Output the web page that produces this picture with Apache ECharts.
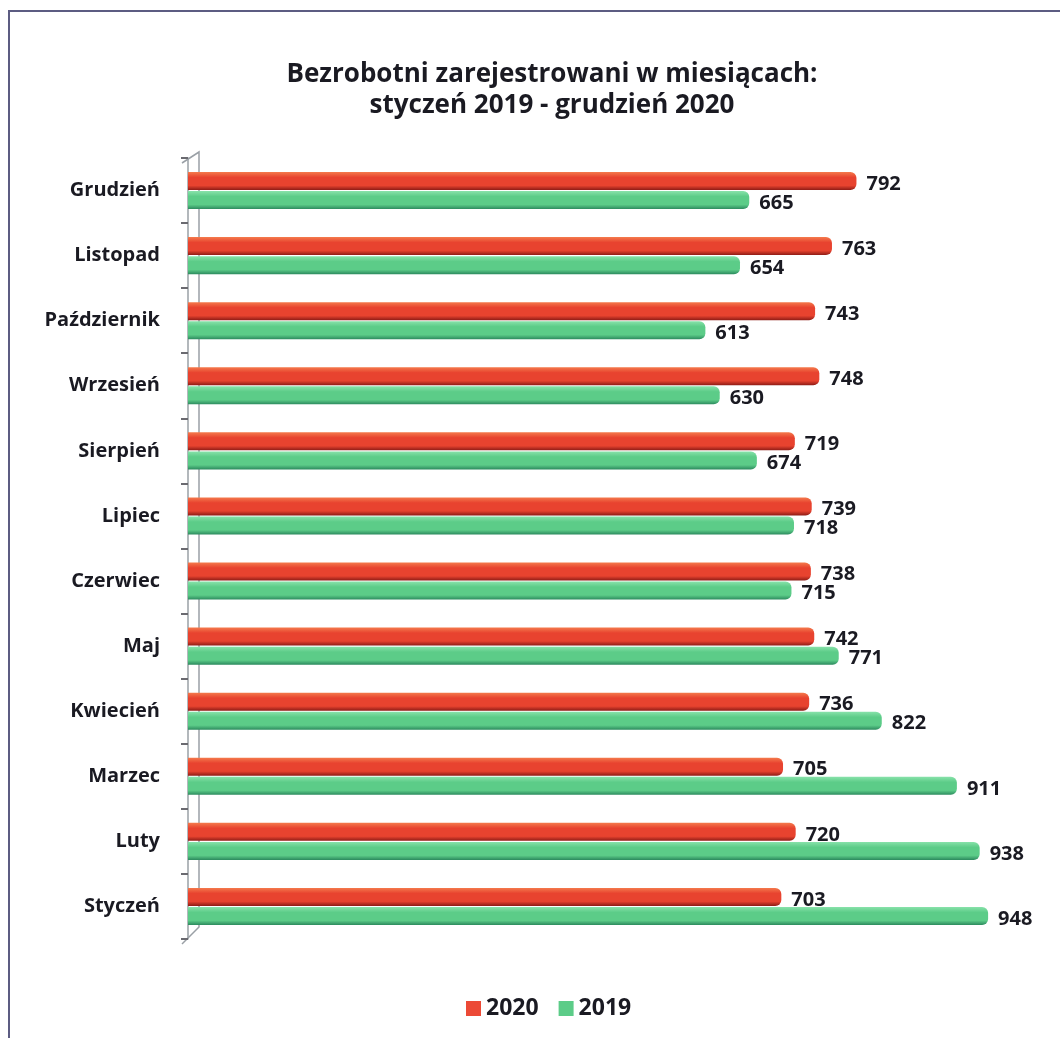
<!DOCTYPE html>
<html>
<head>
<meta charset="utf-8">
<script src="https://cdn.jsdelivr.net/npm/echarts@6/dist/echarts.min.js"></script>
<style>
  html, body { margin: 0; padding: 0; background: #fff; }
  #chart { width: 1060px; height: 1038px; }
</style>
</head>
<body>
<div id="chart"></div>
<script>
var months = ['Styczeń', 'Luty', 'Marzec', 'Kwiecień', 'Maj', 'Czerwiec', 'Lipiec', 'Sierpień', 'Wrzesień', 'Październik', 'Listopad', 'Grudzień'];
var values2020 = [703, 720, 705, 736, 742, 738, 739, 719, 748, 743, 763, 792];
var values2019 = [948, 938, 911, 822, 771, 715, 718, 674, 630, 613, 654, 665];
var seriesNames = ['2020', '2019'];

var dom = document.getElementById('chart');
var myChart = echarts.init(dom);

var font = '"Open Sans", Lato, sans-serif';
var gridLeft = 188, gridTop = 158, gridBottom = 99;

function cyl(light, mid, dark) {
    return new echarts.graphic.LinearGradient(0, 0, 0, 1, [
        { offset: 0, color: light },
        { offset: 0.3, color: mid },
        { offset: 0.75, color: mid },
        { offset: 1, color: dark }
    ]);
}

var labelStyle = {
    show: true,
    position: 'right',
    distance: 10,
    offset: [0, 3],
    color: '#1a1a22',
    fontFamily: font,
    fontWeight: 'bold',
    fontSize: 20
};

var option = {
    backgroundColor: '#fff',
    animation: false,
    title: {
        text: 'Bezrobotni zarejestrowani w miesiącach:\nstyczeń 2019 - grudzień 2020',
        left: 547,
        top: 54,
        textAlign: 'center',
        textStyle: {
            fontFamily: font,
            fontWeight: 'bold',
            fontSize: 26,
            lineHeight: 31,
            color: '#1a1a22'
        }
    },
    legend: {
        data: [
            { name: seriesNames[0], itemStyle: { color: '#ec4a36' } },
            { name: seriesNames[1], itemStyle: { color: '#5ccc88' } }
        ],
        left: 461,
        top: 992,
        icon: 'rect',
        itemWidth: 15,
        itemHeight: 15,
        itemGap: 20,
        textStyle: { fontFamily: font, fontWeight: 'bold', fontSize: 23, color: '#1a1a22' }
    },
    grid: { left: gridLeft, right: 28, top: gridTop, bottom: gridBottom },
    xAxis: {
        type: 'value',
        min: 0,
        max: 1000,
        show: false
    },
    yAxis: {
        type: 'category',
        data: months,
        offset: 6,
        axisLine: { show: true, lineStyle: { color: '#9aa0a6', width: 1.5 } },
        axisTick: { show: true, length: 7, lineStyle: { color: '#6a6a70', width: 2 } },
        axisLabel: {
            margin: 22,
            padding: [10, 0, 0, 0],
            color: '#1a1a22',
            fontFamily: font,
            fontWeight: 'bold',
            fontSize: 20
        },
        splitLine: { show: false }
    },
    graphic: [
        {
            type: 'polyline',
            shape: { points: [[9, 1038], [9, 11], [1060, 11]] },
            style: { stroke: '#5c5c82', lineWidth: 2, fill: null },
            z: 0
        },
        {
            type: 'polyline',
            shape: { points: [[182, gridTop + 5], [199, gridTop - 6], [199, 1038 - gridBottom - 12], [182, 1038 - gridBottom + 5]] },
            style: { stroke: '#9aa0a6', lineWidth: 1.5, fill: null },
            z: 0
        }
    ],
    series: [
        {
            name: seriesNames[0],
            type: 'bar',
            barWidth: 18,
            barGap: '6%',
            data: values2020,
            itemStyle: {
                color: cyl('#f47a4c', '#e8432f', '#8e1c16'),
                borderRadius: [0, 6, 6, 0]
            },
            label: labelStyle
        },
        {
            name: seriesNames[1],
            type: 'bar',
            barWidth: 18,
            barGap: '6%',
            data: values2019,
            itemStyle: {
                color: cyl('#88e2aa', '#5ccc88', '#2c8a5e'),
                borderRadius: [0, 6, 6, 0]
            },
            label: labelStyle
        }
    ],
    color: ['#ec4a36', '#5ccc88']
};

if (option && typeof option === 'object') {
    myChart.setOption(option, true);
}
</script>
</body>
</html>
